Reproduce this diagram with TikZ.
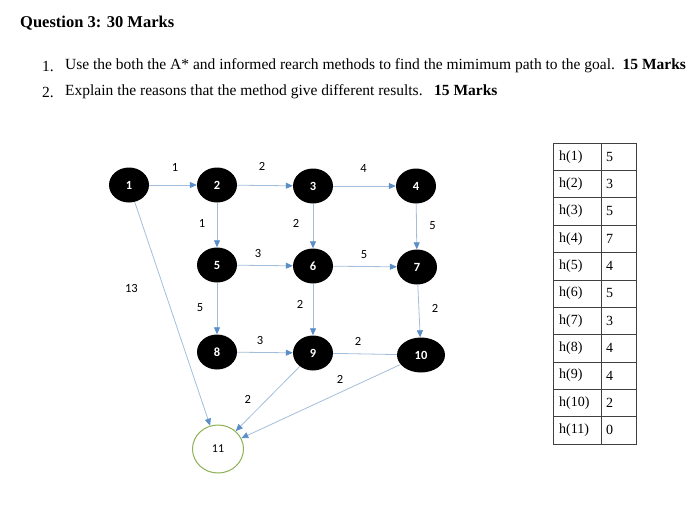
\documentclass[tikz,border=0pt]{standalone}
\usepackage{fontspec}
\setmainfont{Liberation Serif}
\newfontfamily\calibfont{Carlito}
\usetikzlibrary{arrows.meta,shapes.geometric}

\definecolor{edgeblue}{HTML}{A3BEDA}
\definecolor{tipblue}{HTML}{5B8DC6}
\definecolor{goalgreen}{HTML}{8DB255}

\tikzset{
  state/.style={ellipse, fill=black, text=white, inner sep=0pt,
    minimum width=40pt, minimum height=35pt,
    font=\calibfont\bfseries\fontsize{12.5}{14}\selectfont},
  goal/.style={ellipse, draw=goalgreen, line width=1pt, fill=white, inner sep=0pt,
    minimum width=51pt, minimum height=48pt,
    font=\calibfont\fontsize{12}{14}\selectfont},
  edge/.style={edgeblue, line width=0.8pt, -{Triangle[length=7pt,width=6pt,color=tipblue]}},
  plainedge/.style={edgeblue, line width=0.8pt},
  weight/.style={font=\calibfont\fontsize{12.5}{14}\selectfont, text=black, inner sep=0pt},
  hcell/.style={anchor=west, inner sep=0pt, font=\fontsize{14}{16}\selectfont}
}

\begin{document}
\begin{tikzpicture}[x=1pt, y=-1pt]
    \useasboundingbox (0,0) rectangle (700,531);
    % Question text
    \node[anchor=west, inner sep=0pt, font=\bfseries\fontsize{16.5}{19}\selectfont] (title) at (20,23) {Question 3: 30 Marks};
    \node[anchor=west, inner sep=0pt, font=\fontsize{15.5}{18}\selectfont] (num1) at (42,66) {1.};
    \node[anchor=west, inner sep=0pt, font=\fontsize{15.5}{18}\selectfont] (task1) at (65,66) {Use the both the A* and informed rearch methods to find the mimimum path to the goal.\ \ \textbf{15 Marks}};
    \node[anchor=west, inner sep=0pt, font=\fontsize{15.5}{18}\selectfont] (num2) at (42,92) {2.};
    \node[anchor=west, inner sep=0pt, font=\fontsize{15.5}{18}\selectfont] (task2) at (65,92) {Explain the reasons that the method give different results.\ \ \ \textbf{15 Marks}};

    % States
    \foreach \n/\x/\y in {1/129/185, 2/217/185, 3/313/186, 4/416/186,
                          5/217/265, 6/313/266, 7/417/267,
                          8/217/352, 9/313/353} {
        \node[state] (n\n) at (\x,\y) {\n};
    }
    \node[state, minimum width=48pt] (n10) at (421,355) {10};
    \node[goal] (n11) at (218,449) {11};

    % Edges with costs (shift of the label from the middle of the edge)
    \foreach \a/\b/\w/\dx/\dy in {1/2/1/2/18, 2/3/2/-3/19, 3/4/4/-1/18,
                                  2/5/1/-15/2, 3/6/2/-17/3, 4/7/5/16/1,
                                  5/6/3/-7/12, 6/7/5/-1/12,
                                  5/8/5/-17/1, 6/9/2/-13/5, 7/10/2/16/3,
                                  8/9/3/-5/12,
                                  1/11/13/-41/25, 9/11/2/-20/-1, 10/11/2/19/22} {
        \draw[edge] (n\a) -- node[weight, xshift=\dx pt, yshift=\dy pt] (w\a-\b) {\w} (n\b);
    }
    % No arrow between 9 and 10
    \draw[plainedge] (n9) -- node[weight, xshift=-7pt, yshift=13pt] (w9-10) {2} (n10);

    % Heuristic table
    \draw[black!75, line width=0.6pt] (553,143) rectangle (636,444);
    \draw[black!75, line width=0.6pt] (601,143) -- (601,444);
    \foreach \v [count=\i] in {5,3,5,7,4,5,3,4,4,2,0} {
        \draw[black!75, line width=0.6pt] (553,143+27.36*\i) -- (636,143+27.36*\i);
        \node[hcell] (h\i) at (559,129.3+27.36*\i) {h(\i)};
        \node[hcell] (v\i) at (606,129.3+27.36*\i) {\v};
    }
\end{tikzpicture}
\end{document}
